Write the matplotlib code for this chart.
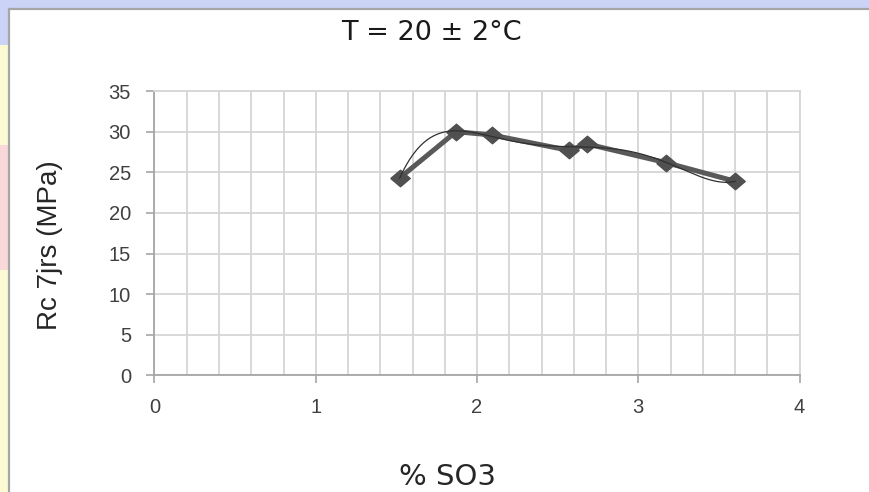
import numpy as np
import matplotlib
matplotlib.use("Agg")
import matplotlib.pyplot as plt
from matplotlib.patches import Rectangle
from matplotlib.ticker import MultipleLocator

# ---- data ----
so3 = [1.52, 1.87, 2.09, 2.57, 2.68, 3.17, 3.60]
rc7 = [24.3, 30.0, 29.6, 27.7, 28.5, 26.2, 23.9]
x_ticks = [0, 1, 2, 3, 4]
y_ticks = [0, 5, 10, 15, 20, 25, 30, 35]
title_text = "T = 20 ± 2°C"
xlabel_text = "% SO3"
ylabel_text = "Rc 7jrs (MPa)"
trend_degree = 5

W, H = 870, 492
fig = plt.figure(figsize=(W / 100, H / 100), dpi=100)
fig.patch.set_facecolor("white")

def fx(px):
    return px / W

def fy(py):
    return 1 - py / H

# slide background strips
fig.patches.append(Rectangle((0, fy(9)), 1, 9 / H, transform=fig.transFigure,
                             facecolor="#cbd3f6", edgecolor="none", zorder=0))
fig.patches.append(Rectangle((0, 0), 9 / W, 1, transform=fig.transFigure,
                             facecolor="#fcfad2", edgecolor="none", zorder=0))
fig.patches.append(Rectangle((0, fy(270)), 9 / W, 125 / H, transform=fig.transFigure,
                             facecolor="#f8d8d8", edgecolor="none", zorder=0))
fig.patches.append(Rectangle((0, fy(45)), 9 / W, 45 / H, transform=fig.transFigure,
                             facecolor="#cbd3f6", edgecolor="none", zorder=0))
# chart frame border
fig.add_artist(plt.Line2D([fx(9), fx(9)], [0, fy(9)], transform=fig.transFigure,
                          color="#a6a6a6", lw=1.6))
fig.add_artist(plt.Line2D([fx(9), 1], [fy(9), fy(9)], transform=fig.transFigure,
                          color="#a6a6a6", lw=1.6))

ax = fig.add_axes([fx(154.5), fy(375.3), (799.6 - 154.5) / W, (375.3 - 91.1) / H])
ax.set_facecolor("white")
ax.set_xlim(0, 4)
ax.set_ylim(0, 35)
ax.set_xticks(x_ticks)
ax.set_yticks(y_ticks)
ax.xaxis.set_minor_locator(MultipleLocator(0.2))
ax.grid(True, which="both", axis="x", color="#d6d6d6", lw=1.3, zorder=0)
ax.grid(True, which="major", axis="y", color="#d6d6d6", lw=1.3, zorder=0)
ax.set_axisbelow(True)
for s in ["top", "right"]:
    ax.spines[s].set_color("#d6d6d6")
    ax.spines[s].set_linewidth(1.3)
for s in ["left", "bottom"]:
    ax.spines[s].set_color("#a6a6a6")
    ax.spines[s].set_linewidth(1.3)
ax.tick_params(axis="both", which="major", direction="out", length=6, width=1.2,
               color="#a6a6a6", labelsize=14.5, labelcolor="#404040")
ax.tick_params(axis="x", which="minor", length=0)
ax.tick_params(axis="x", pad=10)
ax.tick_params(axis="y", pad=11)
for lab in ax.get_xticklabels() + ax.get_yticklabels():
    lab.set_family("Liberation Sans")

# main series
diamond = [(-1, 0), (0, 0.85), (1, 0), (0, -0.85), (-1, 0)]
ax.plot(so3, rc7, color="#595959", lw=3.6, marker=diamond, markersize=14,
        markerfacecolor="#505050", markeredgecolor="#505050", zorder=3)

# polynomial trendline computed from the data
coef = np.polyfit(so3, rc7, trend_degree)
xs = np.linspace(min(so3), max(so3), 200)
ax.plot(xs, np.polyval(coef, xs), color="#303030", lw=0.9, zorder=4)

fig.text(fx(431.7), fy(40), title_text, ha="center", va="baseline",
         fontsize=19.5, family="DejaVu Sans", color="#1a1a1a")
fig.text(fx(448), fy(485), xlabel_text, ha="center", va="baseline",
         fontsize=21, family="DejaVu Sans", color="#262626")
fig.text(fx(50), fy(245.5), ylabel_text, ha="center", va="center", rotation=90,
         fontsize=20, family="Liberation Sans", color="#262626")

fig.savefig("out.png", dpi=100)
